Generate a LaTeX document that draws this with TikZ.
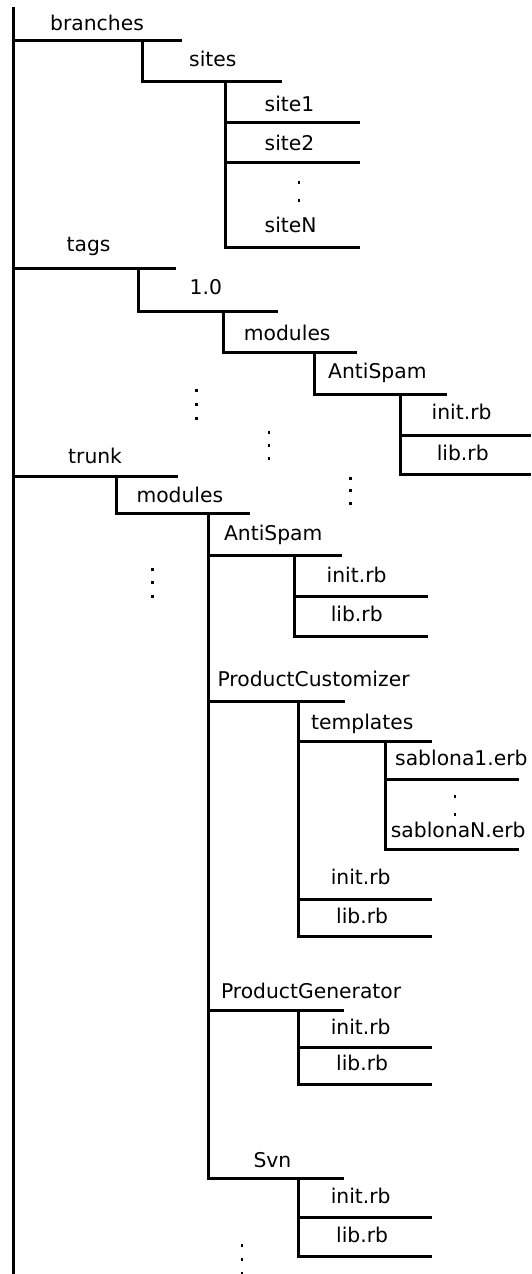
\documentclass[tikz,border=0pt]{standalone}
\usepackage{fontspec}
\setmainfont{DejaVu Sans}
\begin{document}
\begin{tikzpicture}[x=1pt,y=-1pt,
  tree/.style={line width=3pt, line join=miter},
  lbl/.style={anchor=base west, inner sep=0pt, font=\fontsize{20.3}{24}\selectfont},
  vdot/.style={fill=black}]
\useasboundingbox (0,0) rectangle (531,1274);
\fill[white] (0,0) rectangle (531,1274);
% helper: dot
\newcommand{\vd}[2]{\fill[vdot] (#1-1.1,#2-1.5) rectangle (#1+1.1,#2+1.5);}
% root
\draw[tree] (13.5,7) -- (13.5,1280);
% branches
\node[lbl] (branches) at (50,30) {branches};
\draw[tree] (13.5,40.7) -- (182,40.7);
\draw[tree] (142.7,40.7) -- (142.7,81.7) -- (281.7,81.7);
\node[lbl] (sites) at (189,66.7) {sites};
\draw[tree] (225,81.7) -- (225,247) -- (360,247);
\draw[tree] (225,122.7) -- (360,122.7);
\draw[tree] (225,162.3) -- (360,162.3);
\node[lbl] (site1) at (264.5,111) {site1};
\node[lbl] (site2) at (264.5,150) {site2};
\node[lbl] (siteN) at (264.5,232.3) {siteN};
\vd{299}{182}\vd{299}{200}
% tags
\node[lbl] (tags) at (66.5,251.5) {tags};
\draw[tree] (13.5,268.6) -- (176,268.6);
\draw[tree] (138.8,268.6) -- (138.8,311.8) -- (277.7,311.8);
\node[lbl] (v10) at (189.5,294.9) {1.0};
\draw[tree] (223.5,311.8) -- (223.5,352.4) -- (357.2,352.4);
\node[lbl] (tmodules) at (243.7,340.9) {modules};
\draw[tree] (314.2,352.4) -- (314.2,394.1) -- (447,394.1);
\node[lbl] (tanti) at (328,378.1) {AntiSpam};
\draw[tree] (400.6,394.1) -- (400.6,474.3) -- (531,474.3);
\draw[tree] (400.6,435.4) -- (531,435.4);
\node[lbl] (tinit) at (431.5,419.5) {init.rb};
\node[lbl] (tlib) at (436.6,460.1) {lib.rb};
\vd{196.4}{390.7}\vd{196.4}{404.9}\vd{196.4}{418.8}
\vd{269.2}{432}\vd{269.2}{445}\vd{269.2}{458.4}
\vd{350.5}{478}\vd{350.5}{490.5}\vd{350.5}{503}
% trunk
\node[lbl] (trunk) at (68,463.5) {trunk};
\draw[tree] (13.5,476) -- (177.8,476);
\draw[tree] (116.1,476) -- (116.1,513.9) -- (249.6,513.9);
\node[lbl] (modules) at (136.3,502) {modules};
\vd{152.4}{569}\vd{152.4}{582.5}\vd{152.4}{596}
\draw[tree] (208.2,513.9) -- (208.2,1178) -- (343.7,1178);
% AntiSpam
\draw[tree] (208.2,555.2) -- (342,555.2);
\node[lbl] (anti) at (223.9,540.3) {AntiSpam};
\draw[tree] (294.6,555.2) -- (294.6,636.4) -- (428.3,636.4);
\draw[tree] (294.6,596.8) -- (428.3,596.8);
\node[lbl] (ainit) at (326.5,582.3) {init.rb};
\node[lbl] (alib) at (330.6,621.5) {lib.rb};
% ProductCustomizer
\draw[tree] (208.2,701.1) -- (345.4,701.1);
\node[lbl] (pc) at (217.4,686.5) {ProductCustomizer};
\draw[tree] (298,701.1) -- (298,936.6) -- (431.7,936.6);
\draw[tree] (298,741.7) -- (431.7,741.7);
\node[lbl] (templates) at (311,729.9) {templates};
\draw[tree] (385,741.7) -- (385,849.5) -- (519.3,849.5);
\draw[tree] (385,779) -- (519.3,779);
\node[lbl] (s1) at (395,765) {sablona1.erb};
\vd{455}{796.7}\vd{455}{814}
\node[lbl] (sN) at (390.7,837) {sablonaN.erb};
\draw[tree] (298,899) -- (431.7,899);
\node[lbl] (pcinit) at (330.6,884.1) {init.rb};
\node[lbl] (pclib) at (336,923.7) {lib.rb};
% ProductGenerator
\draw[tree] (208.2,1010.8) -- (343.7,1010.8);
\node[lbl] (pg) at (220.8,998.2) {ProductGenerator};
\draw[tree] (298,1010.8) -- (298,1084.9) -- (431.7,1084.9);
\draw[tree] (298,1047) -- (431.7,1047);
\node[lbl] (pginit) at (330.6,1034.5) {init.rb};
\node[lbl] (pglib) at (336,1070.6) {lib.rb};
% Svn
\node[lbl] (svn) at (253.3,1167.1) {Svn};
\draw[tree] (298,1178) -- (298,1256.9) -- (431.7,1256.9);
\draw[tree] (298,1217.2) -- (431.7,1217.2);
\node[lbl] (svninit) at (330.6,1203.4) {init.rb};
\node[lbl] (svnlib) at (336,1242.3) {lib.rb};
\vd{242}{1245}\vd{242}{1259}\vd{242}{1273}
\end{tikzpicture}
\end{document}
